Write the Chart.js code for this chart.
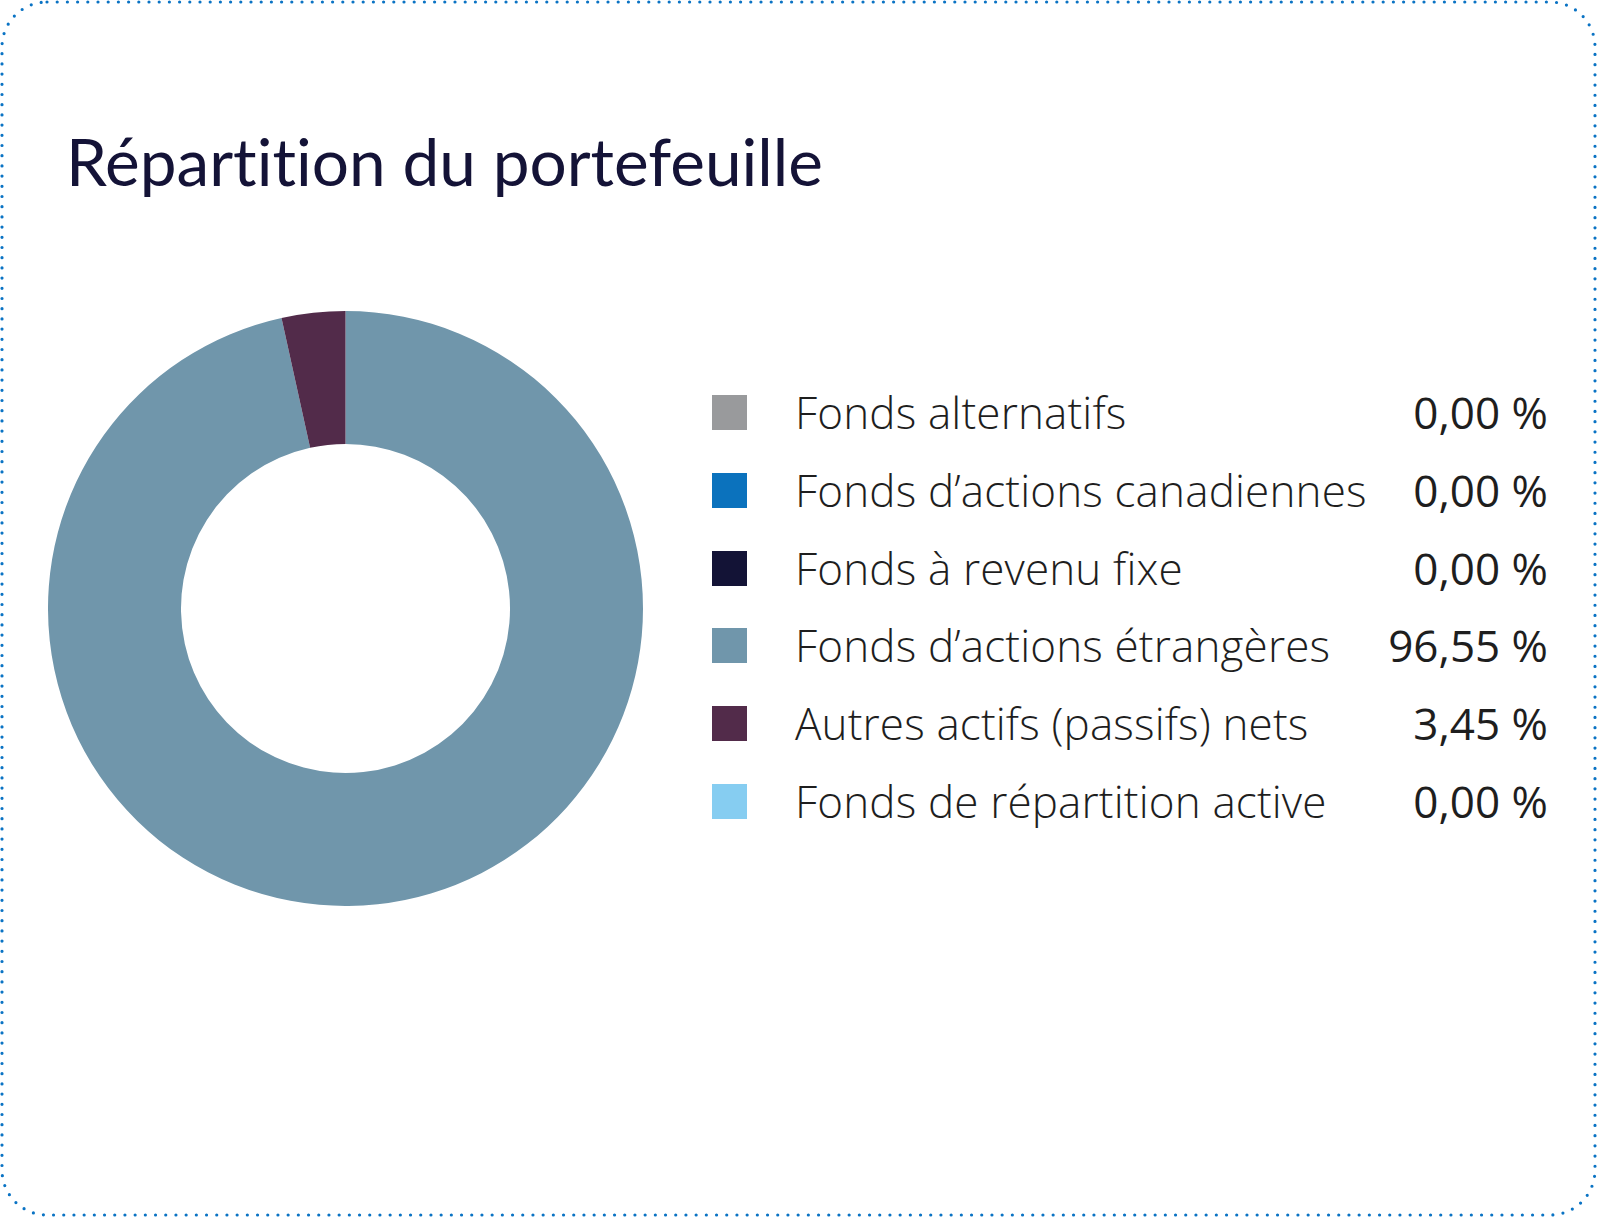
<!DOCTYPE html>
<html><head><meta charset="utf-8">
<script src="https://cdn.jsdelivr.net/npm/chart.js@4.4.1/dist/chart.umd.min.js"></script>
<style>
html,body{margin:0;padding:0;background:#fff;width:1597px;height:1217px;overflow:hidden;}
#frame{position:absolute;left:0;top:0;}
#title{position:absolute;left:66px;top:121px;font-family:Lato,sans-serif;font-size:65.7px;line-height:80px;font-weight:400;color:#141337;white-space:nowrap;margin:0;font-variant-ligatures:none;}
#wrap{position:absolute;left:48px;top:311px;width:595px;height:595px;}
#legend{position:absolute;left:712px;top:382px;width:836px;}
.row{position:relative;height:77.8px;font-family:"Open Sans",sans-serif;font-size:44px;}
.sw{position:absolute;left:0;top:13px;width:35px;height:35px;}
.lab{position:absolute;left:83px;top:0;font-weight:300;color:#1e1e1e;white-space:nowrap;line-height:60px;letter-spacing:0.15px;}
.val{position:absolute;right:0;top:0;font-weight:400;color:#1e1e1e;white-space:nowrap;line-height:60px;}
</style></head>
<body>
<svg id="frame" width="1597" height="1217"><rect x="2" y="2" width="1593" height="1213" rx="45" ry="45" fill="none" stroke="#0a73c4" stroke-width="3.2" stroke-dasharray="0 10.2" stroke-linecap="round"/></svg>
<h1 id="title">Répartition du portefeuille</h1>
<div id="wrap"><canvas id="c"></canvas></div>
<div id="legend"></div>
<script>
const categories = ["Fonds alternatifs","Fonds d’actions canadiennes","Fonds à revenu fixe","Fonds d’actions étrangères","Autres actifs (passifs) nets","Fonds de répartition active"];
const values = [0.00, 0.00, 0.00, 96.55, 3.45, 0.00];
const valueLabels = ["0,00 %","0,00 %","0,00 %","96,55 %","3,45 %","0,00 %"];
const colors = ["#999a9c","#0b72bd","#131336","#7096ab","#522b4a","#86cdf1"];

new Chart(document.getElementById('c'), {
  type: 'doughnut',
  data: { labels: categories, datasets: [{ data: values, backgroundColor: colors, borderWidth: 0 }] },
  options: {
    responsive: true, maintainAspectRatio: false, animation: false,
    cutout: '55.3%',
    layout: { padding: 0 },
    plugins: { legend: { display: false }, tooltip: { enabled: false } }
  }
});

const lg = document.getElementById('legend');
categories.forEach((c, i) => {
  const r = document.createElement('div'); r.className = 'row';
  r.innerHTML = '<div class="sw" style="background:' + colors[i] + '"></div><div class="lab"></div><div class="val"></div>';
  r.querySelector('.lab').textContent = c;
  r.querySelector('.val').textContent = valueLabels[i];
  lg.appendChild(r);
});
</script>
</body></html>
